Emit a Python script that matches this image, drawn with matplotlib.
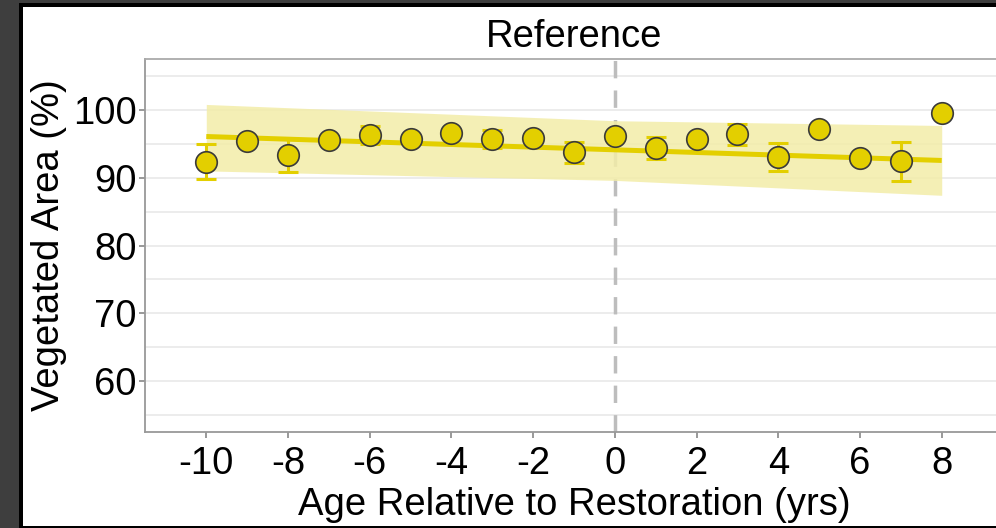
import matplotlib
matplotlib.use("Agg")
import matplotlib.pyplot as plt
from matplotlib.patches import Rectangle
import numpy as np

# ---- data ----
age = [-10, -9, -8, -7, -6, -5, -4, -3, -2, -1, 0, 1, 2, 3, 4, 5, 6, 7, 8]
veg_mean = [92.35, 95.44, 93.28, 95.59, 96.32, 95.68, 96.56, 95.74, 95.88, 93.72,
            96.12, 94.35, 95.68, 96.37, 93.09, 97.21, 92.88, 92.40, 99.50]
veg_err = [2.55, 0.5, 2.45, 0.5, 1.3, 0.5, 0.5, 1.3, 0.5, 1.5,
           0.5, 1.6, 0.5, 1.5, 2.05, 0.5, 0.5, 2.9, 0.5]

fit_x = [-10, 0, 8]
fit_y = [96.07, 94.11, 92.54]
fit_lo = [91.0, 89.6, 87.4]
fit_hi = [100.8, 98.4, 97.7]

x_ticks = [-10, -8, -6, -4, -2, 0, 2, 4, 6, 8]
y_ticks = [60, 70, 80, 90, 100]
y_minor = [55, 65, 75, 85, 95, 105]

title = "Reference"
xlabel = "Age Relative to Restoration (yrs)"
ylabel = "Vegetated Area (%)"

# ---- styling ----
plt.rcParams['font.family'] = ['Liberation Sans', 'DejaVu Sans']
plt.rcParams['axes.unicode_minus'] = False
YELLOW = "#E3CF00"
RIBBON = "#F3EDA8"
FS = 27.5

fig = plt.figure(figsize=(9.96, 5.28), dpi=100, facecolor="#3e3e3e")
W, H = 996, 528
# white panel with black frame
fig.patches.append(Rectangle((19 / W, -0.01), 1.05, 1 - 3 / H + 0.01,
                             transform=fig.transFigure, facecolor="black",
                             edgecolor="none", zorder=-20))
fig.patches.append(Rectangle((23 / W, 2 / H), 1.05, 1 - 9 / H,
                             transform=fig.transFigure, facecolor="white",
                             edgecolor="none", zorder=-19))

ax = fig.add_axes([145 / W, 1 - 432 / H, (1003 - 145) / W, (432 - 59) / H])
ax.set_facecolor("white")

ax.set_xlim(-11.5, 9.5)
ax.set_ylim(52.5, 107.5)

for v in y_ticks + y_minor:
    ax.axhline(v, color="#ebebeb", lw=1.3, zorder=0)

ax.axvline(0, color="#bdbdbd", lw=2.5, ls=(0, (5, 3.5)), zorder=1)

ax.fill_between(fit_x, fit_lo, fit_hi, color=RIBBON, alpha=0.85, lw=0, zorder=2)
ax.plot(fit_x, fit_y, color=YELLOW, lw=3.6, zorder=3, solid_capstyle="butt")

ax.errorbar(age, veg_mean, yerr=veg_err, fmt="none", ecolor=YELLOW,
            elinewidth=2.2, capsize=7.2, capthick=2.2, zorder=4)
ax.plot(age, veg_mean, "o", ms=15.5, mfc=YELLOW, mec="#3a3a3a", mew=1.2,
        zorder=5, ls="none")

ax.set_xticks(x_ticks)
ax.set_yticks(y_ticks)
ax.tick_params(axis="both", colors="#888888", length=4, width=1.2,
               labelsize=FS, labelcolor="black")
ax.tick_params(axis="x", pad=6)
ax.tick_params(axis="y", pad=2)

for side in ["left", "bottom"]:
    ax.spines[side].set_color("#999999")
    ax.spines[side].set_linewidth(1.3)
ax.spines["top"].set_color("#aaaaaa")
ax.spines["top"].set_linewidth(1.3)
ax.spines["right"].set_visible(False)

ax.set_title(title, fontsize=FS, pad=8.5)
ax.set_xlabel(xlabel, fontsize=FS, labelpad=4)
ax.set_ylabel(ylabel, fontsize=FS, labelpad=4)

fig.savefig("out.png", dpi=100, facecolor=fig.get_facecolor())
